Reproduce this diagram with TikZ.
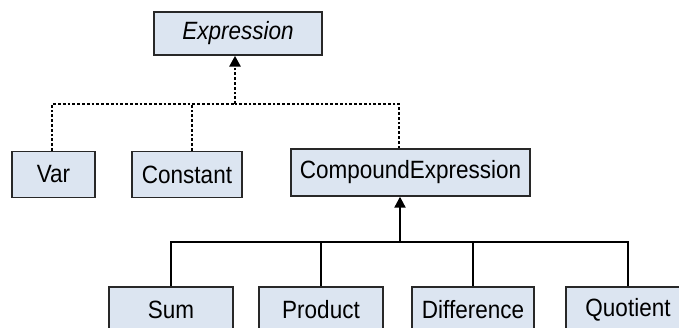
\documentclass[tikz,border=0pt]{standalone}
\usepackage{fontspec}
\usepackage{graphicx}
\setmainfont{Liberation Sans}
\usetikzlibrary{arrows.meta}
\definecolor{boxfill}{RGB}{220,229,241}
\definecolor{boxline}{RGB}{40,40,40}
\newcommand{\cn}[1]{\scalebox{0.9}[1]{#1}}
\tikzset{
  cls/.style={draw=boxline, line width=1.4pt, fill=boxfill, inner sep=0pt,
    font=\fontsize{25}{29}\selectfont, text=black},
  solidl/.style={line width=2.2pt, black},
  dotl/.style={line width=2.8pt, black, dash pattern=on 2.8pt off 2pt},
  tip/.style={-{Triangle[length=11pt,width=11pt]}}
}
\begin{document}
\begin{tikzpicture}[x=1pt,y=1pt]
\useasboundingbox (0,0) rectangle (679,-327);
\clip (0,0) rectangle (679,-327);
\fill[white] (0,0) rectangle (679,-327);
% nodes
\node[cls, minimum width=168pt, minimum height=43pt] (expr) at (238,-33.5) {\cn{\itshape Expression}};
\node[cls, minimum width=83pt, minimum height=46pt] (var) at (53.5,-174.5) {\cn{Var}};
\node[cls, minimum width=110pt, minimum height=46pt] (const) at (187,-174.5) {\cn{Constant}};
\node[cls, minimum width=239pt, minimum height=47pt] (comp) at (410.5,-172.5) {\cn{CompoundExpression}};
\node[cls, minimum width=124pt, minimum height=46pt] (sum) at (171,-310) {\cn{Sum}};
\node[cls, minimum width=124pt, minimum height=46pt] (prod) at (321,-310) {\cn{Product}};
\node[cls, minimum width=122pt, minimum height=46pt] (diff) at (473,-310) {\cn{Difference}};
\node[cls, minimum width=124pt, minimum height=46pt] (quot) at (628,-310) {\cn{Quotient}};
% junctions
\coordinate (dj) at (235,-104);
\coordinate (sj) at (400,-242);
% dotted generalisation
\draw[dotl] ([xshift=-1.5pt]var.north) |- (dj);
\draw[dotl] ([xshift=-11.5pt]comp.north) |- (dj);
\draw[dotl] ([xshift=5pt]const.north) -- ([xshift=5pt]const.north |- dj);
\draw[dotl, tip] (dj) -- ([xshift=-3pt]expr.south);
% solid tree
\draw[solidl] (sum.north) |- (sj);
\draw[solidl] (quot.north) |- (sj);
\draw[solidl] (prod.north) -- (prod.north |- sj);
\draw[solidl] (diff.north) -- (diff.north |- sj);
\draw[solidl, tip] (sj) -- ([xshift=-10.5pt]comp.south);
\end{tikzpicture}
\end{document}
